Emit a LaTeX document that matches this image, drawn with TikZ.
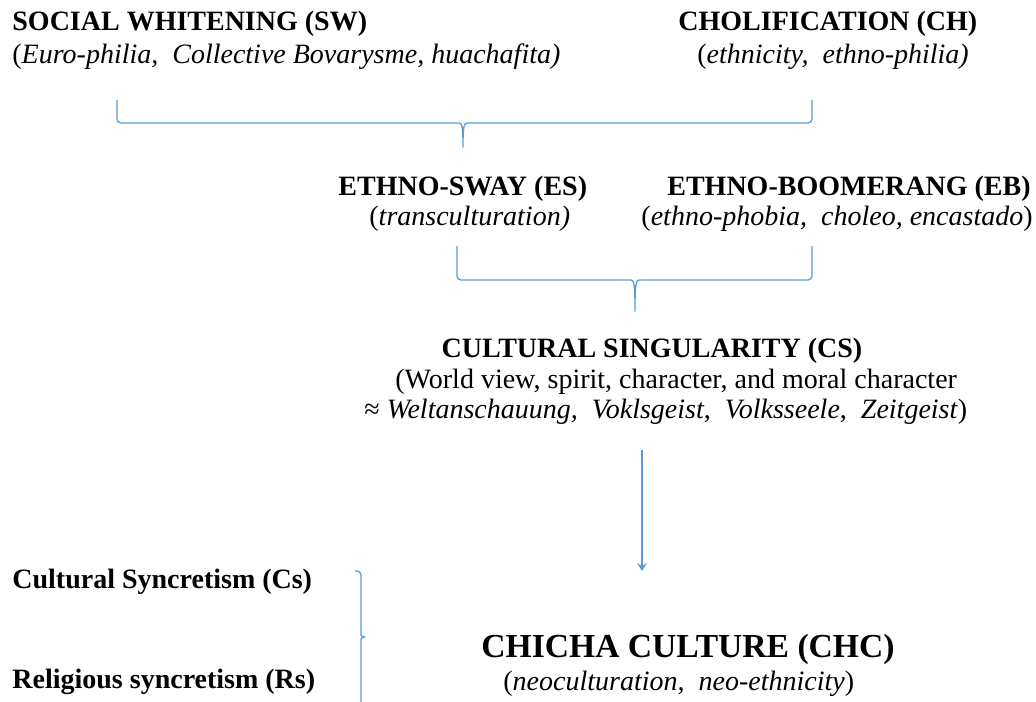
\documentclass[tikz,border=0pt]{standalone}
\usepackage{fontspec}
\setmainfont{Liberation Serif}
\usetikzlibrary{arrows.meta}
\definecolor{lblue}{HTML}{5B9BD5}

\begin{document}
\begin{tikzpicture}[x=0.5pt,y=-0.5pt,
	every node/.style={inner sep=0pt,font=\fontsize{14}{16}\selectfont},
	head/.style={font=\fontsize{14}{16}\selectfont\bfseries},
	brace/.style={draw=lblue,line width=0.65pt,rounded corners=2pt}]
	\useasboundingbox (0,0) rectangle (1036,701);
	%top row
	\node[head,anchor=base west] (sw) at (12,31) {SOCIAL WHITENING (SW)};
	\node[anchor=base west] (swsub) at (12,64) {(\textit{Euro-philia,\ \ Collective Bovarysme, huachafita)}};
	\node[head,anchor=base west] (ch) at (678,31) {CHOLIFICATION (CH)};
	\node[anchor=base west] (chsub) at (697,64) {(\textit{ethnicity,\ \ ethno-philia)}};
	%second row
	\node[head,anchor=base west] (es) at (338,195) {ETHNO-SWAY (ES)};
	\node[anchor=base west] (essub) at (369,225) {(\textit{transculturation)}};
	\node[head,anchor=base east] (eb) at (1031,195) {ETHNO-BOOMERANG (EB)};
	\node[anchor=base east] (ebsub) at (1033,225) {(\textit{ethno-phobia,\ \ choleo, encastado})};
	%singularity
	\node[head,anchor=base] (cs) at (652,357) {CULTURAL SINGULARITY (CS)};
	\node[anchor=base west] (cs2) at (395,388) {(World view, spirit, character, and moral character};
	\node[anchor=base west] (cs3) at (364,418) {≈ \textit{Weltanschauung,\ \ Voklsgeist,\ \ Volksseele,\ \ Zeitgeist})};
	%bottom
	\node[head,anchor=base west] (cult) at (12,588) {Cultural Syncretism (Cs)};
	\node[head,anchor=base west] (relig) at (12,688) {Religious syncretism (Rs)};
	\node[anchor=base west,font=\fontsize{16.8}{19}\selectfont\bfseries] (chc) at (481,657) {CHICHA CULTURE (CHC)};
	\node[anchor=base west] (chcsub) at (503,690) {(\textit{neoculturation,\ \ neo-ethnicity})};
	%braces
	\coordinate (b1l) at (117,100);
	\coordinate (b1r) at (812,100);
	\coordinate (b1t) at (463,150);
	\draw[brace] (b1l) |- (455,123) .. controls (462,123) and (463,127) .. (b1t)
		.. controls (463,127) and (464,123) .. (471,123) -| (b1r);
	\coordinate (b2l) at (457,246);
	\coordinate (b2r) at (812,246);
	\coordinate (b2t) at (635,314);
	\draw[brace] (b2l) |- (627,280) .. controls (634,280) and (635,285) .. (b2t)
		.. controls (635,285) and (636,280) .. (643,280) -| (b2r);
	\coordinate (b3a) at (355,571);
	\coordinate (b3t) at (368,637);
	\coordinate (b3b) at (361,705);
	\draw[brace] (b3a) -| (361,631) .. controls (361,635) and (362,637) .. (b3t)
		.. controls (362,637) and (361,639) .. (361,643) -- (b3b);
	%arrow
	\coordinate (a1) at (642,450);
	\coordinate (a2) at (642,571);
	\draw[lblue,line width=0.65pt,-{Stealth[length=4pt,width=5pt,inset=1.5pt]}] (a1) -- (a2);
\end{tikzpicture}
\end{document}
